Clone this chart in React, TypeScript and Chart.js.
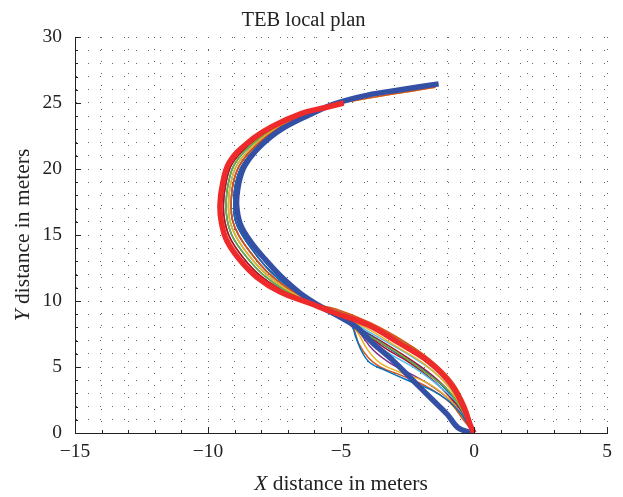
import React, { useEffect, useRef } from "react";
import { Chart, registerables } from "chart.js";

Chart.register(...registerables);

type P = [number, number];

const TITLE = "TEB local plan";
const X_TICK_LABELS = [-15, -10, -5, 0, 5];
const Y_TICK_LABELS = [0, 5, 10, 15, 20, 25, 30];

// thick paths
const RED_THICK: P[] = [
  [0, 0], [-0.12, 0.5], [-0.4, 2.0], [-0.9, 3.8], [-1.7, 5.4], [-2.8, 6.8], [-4.0, 8.2], [-5.3, 9.15],
  [-6.2, 9.85], [-7.3, 10.7], [-8.16, 11.8], [-8.8, 13.1], [-9.3, 14.6], [-9.5, 16.0], [-9.55, 17.3],
  [-9.45, 18.9], [-9.2, 20.5], [-8.5, 22.0], [-7.6, 23.2], [-6.5, 24.2], [-5.5, 24.7], [-4.9, 25.0],
];
const BLUE_THICK: P[] = [
  [-0.1, 0], [-0.6, 0.4], [-1.0, 1.4], [-1.55, 2.5], [-2.3, 4.0], [-3.05, 5.5], [-3.8, 6.8], [-4.4, 8.0],
  [-5.05, 8.8], [-5.7, 9.5], [-6.54, 10.6], [-7.25, 11.85], [-7.85, 13.15], [-8.4, 14.5], [-8.78, 15.8],
  [-8.92, 17.2], [-8.88, 18.5], [-8.7, 19.9], [-8.4, 20.9], [-7.95, 21.9], [-7.25, 23.0], [-6.3, 24.0],
  [-5.3, 24.9], [-4.0, 25.6], [-2.76, 26.0], [-1.33, 26.45],
];

// lower parts of the thin plans (from start point up to the bend)
const L1: P[] = [[0, 0], [-0.25, 0.75], [-0.5, 1.5], [-1.0, 2.5], [-1.65, 3.3], [-2.5, 4.0], [-3.4, 4.8], [-3.9, 5.3], [-4.2, 6.1], [-4.45, 7.3], [-4.64, 8.3], [-5.4, 9.3]];
const L2: P[] = [[0, 0], [-0.4, 1.0], [-0.9, 2.3], [-1.76, 3.5], [-2.78, 4.4], [-3.53, 5.0], [-3.97, 5.7], [-4.34, 6.8], [-4.57, 8.0], [-5.35, 9.3]];
const L3: P[] = [[0, 0], [-0.4, 1.2], [-0.9, 2.5], [-1.76, 3.8], [-2.78, 4.6], [-3.53, 5.3], [-4.0, 6.3], [-4.45, 7.8], [-5.3, 9.2]];
const L4: P[] = [[0, 0], [-0.34, 1.0], [-0.8, 2.3], [-1.54, 3.5], [-2.4, 4.5], [-3.16, 5.3], [-3.8, 6.3], [-4.4, 7.8], [-5.3, 9.2]];
const L5: P[] = [[0, 0], [-0.2, 0.75], [-0.53, 2.0], [-1.0, 3.3], [-1.76, 4.5], [-2.9, 6.1], [-4.3, 7.8], [-5.4, 9.2]];
const L6: P[] = [[0, 0], [-0.26, 1.0], [-0.64, 2.3], [-1.28, 3.5], [-2.14, 4.8], [-3.4, 6.3], [-4.64, 8.3], [-5.5, 9.3]];
const L7: P[] = [[0, 0], [-0.4, 1.5], [-0.9, 2.7], [-1.54, 4.0], [-2.4, 5.3], [-3.4, 6.5], [-4.64, 8.4], [-5.5, 9.4]];
const L8: P[] = [[0, 0], [-0.18, 0.6], [-0.55, 1.9], [-1.1, 3.4], [-2.0, 4.9], [-3.1, 6.3], [-4.3, 7.9], [-5.4, 9.2]];
const L9: P[] = [[0, 0], [-0.08, 0.5], [-0.3, 2.0], [-0.78, 3.8], [-1.55, 5.4], [-2.6, 6.9], [-3.9, 8.35], [-5.2, 9.4]];
const L10: P[] = [[0, 0], [-0.15, 0.5], [-0.5, 2.0], [-1.0, 3.6], [-1.85, 5.2], [-2.95, 6.6], [-4.1, 8.0], [-5.3, 9.1]];
const L11: P[] = [[0, 0], [-0.3, 1.3], [-0.75, 2.7], [-1.4, 4.0], [-2.3, 5.3], [-3.5, 6.8], [-4.6, 8.3], [-5.5, 9.3]];
const L12: P[] = [[0, 0], [-0.1, 0.55], [-0.33, 2.0], [-0.82, 3.75], [-1.6, 5.4], [-2.65, 6.9], [-3.95, 8.3], [-5.25, 9.35]];
const L13: P[] = [[0, 0], [-0.1, 0.6], [-0.38, 1.8], [-0.85, 3.3], [-1.55, 4.7], [-2.6, 6.1], [-3.9, 7.6], [-5.0, 8.9]];
const L14: P[] = [[0, 0], [-0.22, 0.9], [-0.62, 2.3], [-1.2, 3.7], [-2.05, 5.1], [-3.2, 6.6], [-4.45, 8.1], [-5.45, 9.25]];

// upper bend bands (outer -> inner)
const U20: P[] = [[-6.16, 9.81], [-7.22, 10.8], [-8.05, 11.94], [-8.67, 13.26], [-9.16, 14.72], [-9.37, 16.04], [-9.42, 17.3], [-9.33, 18.88], [-9.08, 20.44], [-8.4, 21.94], [-7.53, 23.16], [-6.46, 24.16], [-5.46, 24.74]];
const U35: P[] = [[-6.13, 9.86], [-7.16, 10.88], [-7.96, 12.05], [-8.57, 13.38], [-9.06, 14.81], [-9.27, 16.07], [-9.32, 17.3], [-9.24, 18.87], [-8.99, 20.4], [-8.33, 21.9], [-7.48, 23.13], [-6.43, 24.13], [-5.43, 24.77]];
const U50: P[] = [[-6.1, 9.9], [-7.1, 10.95], [-7.88, 12.15], [-8.48, 13.5], [-8.95, 14.9], [-9.18, 16.1], [-9.23, 17.3], [-9.15, 18.85], [-8.9, 20.35], [-8.25, 21.85], [-7.43, 23.1], [-6.4, 24.1], [-5.4, 24.8]];
const U65: P[] = [[-6.07, 9.95], [-7.04, 11.03], [-7.8, 12.26], [-8.38, 13.62], [-8.85, 14.99], [-9.08, 16.13], [-9.13, 17.3], [-9.06, 18.84], [-8.81, 20.3], [-8.18, 21.81], [-7.37, 23.07], [-6.37, 24.07], [-5.37, 24.83]];
const U80: P[] = [[-6.04, 9.99], [-6.98, 11.1], [-7.71, 12.36], [-8.28, 13.74], [-8.74, 15.08], [-8.98, 16.16], [-9.03, 17.3], [-8.97, 18.82], [-8.72, 20.26], [-8.1, 21.76], [-7.32, 23.04], [-6.34, 24.04], [-5.34, 24.86]];

const END_SHORT: P[] = [[-4.9, 25.0]];
const END_LONG: P[] = [[-4.0, 25.35], [-3.0, 25.7], [-2.2, 25.95], [-1.45, 26.2]];

const MATLAB_COLORS = ["#0072BD", "#D95319", "#EDB120", "#7E2F8E", "#77AC30", "#4DBEEE", "#A2142F"];

const THIN_PLANS: P[][] = [
  [...L1, ...U80, ...END_SHORT],
  [...L2, ...U65, ...END_LONG],
  [...L3, ...U50, ...END_LONG],
  [...L4, ...U65, ...END_SHORT],
  [...L5, ...U35, ...END_SHORT],
  [...L6, ...U50, ...END_SHORT],
  [...L7, ...U20, ...END_SHORT],
  [...L8, ...U35, ...END_SHORT],
  [...L9, ...U20, ...END_SHORT],
  [...L10, ...U50, ...END_SHORT],
  [...L11, ...U80, ...END_SHORT],
  [...L12, ...U65, ...END_SHORT],
  [...L13, ...U35, ...END_SHORT],
  [...L14, ...U80, ...END_SHORT],
];

const FONT = '"Liberation Serif", "DejaVu Serif", serif';

const toXY = (arr: P[]) => arr.map(([x, y]) => ({ x, y }));

const axisDecor = {
  id: "axisDecor",
  afterDraw(chart: any) {
    const { ctx, chartArea, scales } = chart;
    const xs = scales.x;
    const ys = scales.y;
    ctx.save();
    // inward ticks
    ctx.strokeStyle = "#222";
    ctx.lineWidth = 1;
    ctx.beginPath();
    for (let v = -15; v <= 5; v++) {
      const px = Math.round(xs.getPixelForValue(v)) + 0.5;
      const len = v % 5 === 0 ? 6 : 3;
      ctx.moveTo(px, chartArea.bottom);
      ctx.lineTo(px, chartArea.bottom - len);
    }
    for (let v = 0; v <= 30; v++) {
      const py = Math.round(ys.getPixelForValue(v)) + 0.5;
      const len = v % 5 === 0 ? 6 : 3;
      ctx.moveTo(chartArea.left, py);
      ctx.lineTo(chartArea.left + len, py);
    }
    ctx.stroke();

    // axis titles with italic variable
    ctx.fillStyle = "#222";
    ctx.textBaseline = "middle";
    const size = 21.5;
    const drawMixed = (cx: number, cy: number, it: string, rest: string) => {
      ctx.font = `italic ${size}px ${FONT}`;
      const w1 = ctx.measureText(it).width;
      ctx.font = `${size}px ${FONT}`;
      const w2 = ctx.measureText(rest).width;
      const start = cx - (w1 + w2) / 2;
      ctx.textAlign = "left";
      ctx.font = `italic ${size}px ${FONT}`;
      ctx.fillText(it, start, cy);
      ctx.font = `${size}px ${FONT}`;
      ctx.fillText(rest, start + w1, cy);
    };
    const cxPlot = (chartArea.left + chartArea.right) / 2;
    drawMixed(cxPlot, 484, "X", " distance in meters");
    ctx.translate(23, (chartArea.top + chartArea.bottom) / 2);
    ctx.rotate(-Math.PI / 2);
    drawMixed(0, 0, "Y", " distance in meters");
    ctx.restore();
  },
};

const bgPlugin = {
  id: "bg",
  beforeDraw(chart: any) {
    const { ctx, width, height } = chart;
    ctx.save();
    ctx.fillStyle = "#fff";
    ctx.fillRect(0, 0, width, height);
    ctx.restore();
  },
};

export default function App() {
  const ref = useRef<HTMLCanvasElement>(null);
  useEffect(() => {
    if (!ref.current) return;
    const datasets: any[] = [
      {
        data: toXY(RED_THICK),
        borderColor: "#ee2a2a",
        borderWidth: 5.5,
        tension: 0.4,
      },
      {
        data: toXY(BLUE_THICK),
        borderColor: "#3450a4",
        borderWidth: 5.5,
        tension: 0.35,
      },
      ...THIN_PLANS.map((p, i) => ({
        data: toXY(p),
        borderColor: MATLAB_COLORS[i % MATLAB_COLORS.length],
        borderWidth: 1.5,
        tension: 0.4,
      })),
    ].map((d) => ({ ...d, showLine: true, pointRadius: 0, fill: false }));

    const tickFont = { family: FONT, size: 19.5 };
    const chart = new Chart(ref.current, {
      type: "scatter",
      data: { datasets },
      plugins: [bgPlugin, axisDecor],
      options: {
        animation: false,
        responsive: false,
        layout: { padding: { left: 0, right: 16, top: 0, bottom: 0 } },
        plugins: {
          legend: { display: false },
          tooltip: { enabled: false },
          title: {
            display: true,
            text: TITLE,
            color: "#222",
            font: { family: FONT, size: 20.5, weight: "normal" },
            padding: { top: 8.5, bottom: 3.9 },
          },
        },
        scales: {
          x: {
            type: "linear",
            min: -15,
            max: 5,
            afterFit: (s: any) => {
              s.height = 64;
            },
            ticks: {
              stepSize: 1,
              autoSkip: false,
              maxRotation: 0,
              padding: 7,
              color: "#222",
              font: tickFont,
              callback: (v: any) =>
                X_TICK_LABELS.includes(Number(v)) ? String(v).replace("-", "\u2212") : "",
            },
            grid: { color: "#666", lineWidth: 1, drawTicks: false },
            border: { display: true, color: "#222", width: 1, dash: [1, 11] },
          },
          y: {
            type: "linear",
            min: 0,
            max: 30,
            afterFit: (s: any) => {
              s.width = 75;
            },
            ticks: {
              stepSize: 1,
              autoSkip: false,
              padding: 13,
              color: "#222",
              font: tickFont,
              callback: (v: any) => (Y_TICK_LABELS.includes(Number(v)) ? String(v) : ""),
            },
            grid: { color: "#666", lineWidth: 1, drawTicks: false },
            border: { display: true, color: "#222", width: 1, dash: [1, 11] },
          },
        },
      },
    });
    return () => chart.destroy();
  }, []);
  return (
    <div style={{ position: "fixed", left: 0, top: 0, width: 623, height: 497, background: "#fff" }}>
      <canvas ref={ref} width={623} height={497} style={{ display: "block" }} />
    </div>
  );
}
